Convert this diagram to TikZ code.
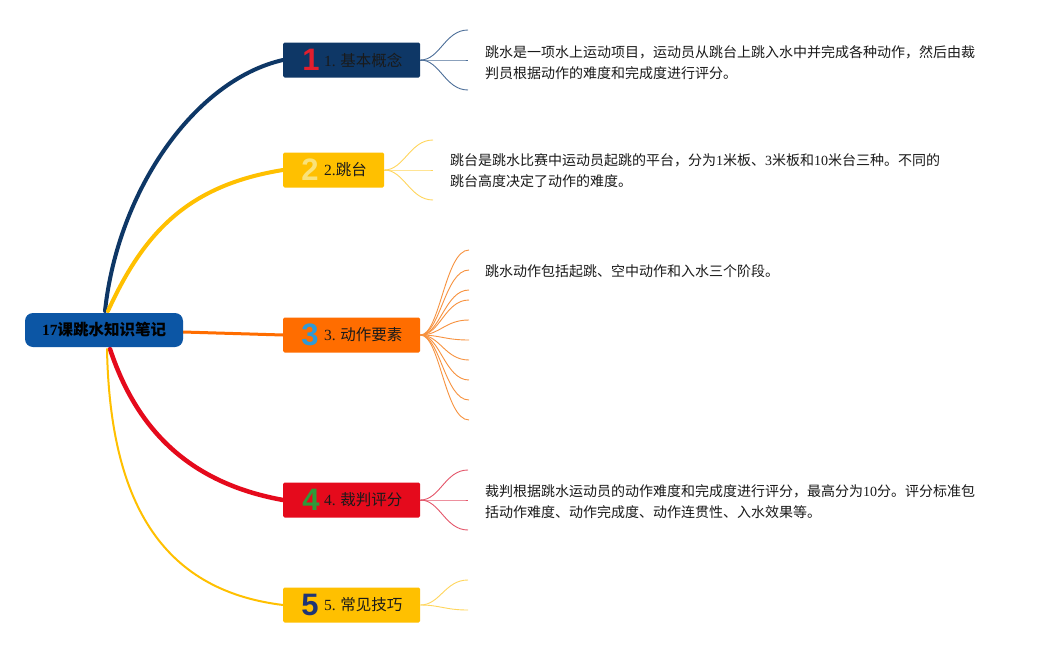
\documentclass[tikz,border=0pt]{standalone}
\usepackage{fontspec}
\setmainfont{Noto Sans CJK SC}
\newfontfamily\lat{Liberation Serif}
\newfontfamily\numf{Liberation Sans}
\definecolor{rootc}{HTML}{0C56A5}
\definecolor{c1}{HTML}{0E3766}
\definecolor{c2}{HTML}{FFC000}
\definecolor{c3}{HTML}{FF6D00}
\definecolor{c4}{HTML}{E50A1C}
\definecolor{c5}{HTML}{FFC000}
\definecolor{n1}{HTML}{E31E2D}
\definecolor{n2}{HTML}{F9E27A}
\definecolor{n3}{HTML}{2F9AD6}
\definecolor{n4}{HTML}{2E9A3A}
\definecolor{n5}{HTML}{1E3575}
\definecolor{f1}{HTML}{4D6F99}
\definecolor{f2}{HTML}{FFD65C}
\definecolor{f3}{HTML}{F7923F}
\definecolor{f4}{HTML}{E4566A}
\definecolor{f5}{HTML}{FFD65C}
\definecolor{txt}{HTML}{1A1A1A}
\begin{document}
\begin{tikzpicture}[x=1pt,y=-1pt,
  box/.style={fill=#1, minimum height=35pt, inner sep=0pt, anchor=west, rectangle, rounded corners=1.5pt},
  num/.style={font=\numf\bfseries\fontsize{31}{31}\selectfont, text=#1, inner sep=0pt},
  lbl/.style={font=\fontsize{15.5}{18}\selectfont, anchor=west, inner sep=0pt, text=txt},
  desc/.style={font=\fontsize{14}{21}\selectfont, anchor=west, align=left, inner sep=0pt, text=txt},
  trunk/.style={line cap=round, draw=#1},
  fan/.style={line width=0.9pt, draw=#1}]
\useasboundingbox[fill=white] (0,0) rectangle (1045,648);

% branch boxes
\node[box=c1, minimum width=137pt] (b1) at (283,60) {};
\node[box=c2, minimum width=101pt] (b2) at (283,170) {};
\node[box=c3, minimum width=137pt] (b3) at (283,335) {};
\node[box=c4, minimum width=137pt] (b4) at (283,500) {};
\node[box=c5, minimum width=137pt] (b5) at (283,605) {};

% root position (drawn after trunks)
\coordinate (rc) at (104,330);
\coordinate (rn) at (104,313);
\coordinate (rs) at (104,347);
\coordinate (re) at (183,332);

% trunks
\draw[trunk=c1, line width=4pt] ([xshift=1pt,yshift=2pt]rn) .. controls (118,190) and (195,80) .. (b1.west);
\draw[trunk=c2, line width=4pt] ([xshift=4pt,yshift=2pt]rn) .. controls (145,230) and (190,185) .. (b2.west);
\draw[trunk=c3, line width=3pt] (re) -- (b3.west);
\draw[trunk=c4, line width=4.5pt] ([xshift=6pt,yshift=-2pt]rs) .. controls (140,440) and (200,485) .. (b4.west);
\draw[trunk=c5, line width=2pt] ([xshift=3pt,yshift=-2pt]rs) .. controls (110,500) and (160,590) .. (b5.west);

% root
\node[fill=rootc, rounded corners=8pt, minimum width=158pt, minimum height=34pt, inner sep=0pt,
      font=\fontsize{15.5}{18}\selectfont\bfseries, text=black] (root) at (rc)
      {{\lat\bfseries 17}课跳水知识笔记};

% numerals and labels
\node[num=n1] (k1) at (311,60) {1};
\node[lbl] (l1) at (324,60) {{\lat 1.} 基本概念};
\node[num=n2] (k2) at (310,170) {2};
\node[lbl] (l2) at (324,170) {{\lat 2.}跳台};
\node[num=n3] (k3) at (310,335) {3};
\node[lbl] (l3) at (324,335) {{\lat 3.} 动作要素};
\node[num=n4] (k4) at (311,500) {4};
\node[lbl] (l4) at (324,500) {{\lat 4.} 裁判评分};
\node[num=n5] (k5) at (310,605) {5};
\node[lbl] (l5) at (324,605) {{\lat 5.} 常见技巧};

% fans
\foreach \y [count=\i] in {30,60,90} {
  \coordinate (ea\i) at (468,\y);
  \draw[fan=f1] (b1.east) .. controls (440,60) and (445,\y) .. (ea\i);
}
\foreach \y [count=\i] in {140,170,200} {
  \coordinate (eb\i) at (433,\y);
  \draw[fan=f2] (b2.east) .. controls (404,170) and (410,\y) .. (eb\i);
}
\foreach \y [count=\i] in {250,270,290,300,320,340,360,380,400,420} {
  \coordinate (ec\i) at (469,\y);
  \draw[fan=f3] (b3.east) .. controls (440,335) and (445,\y) .. (ec\i);
}
\foreach \y [count=\i] in {470,500,530} {
  \coordinate (ed\i) at (468,\y);
  \draw[fan=f4] (b4.east) .. controls (440,500) and (445,\y) .. (ed\i);
}
\foreach \y [count=\i] in {580,610} {
  \coordinate (ee\i) at (468,\y);
  \draw[fan=f5] (b5.east) .. controls (440,605) and (445,\y) .. (ee\i);
}

% descriptions
\node[desc] (d1) at (485,62.5) {跳水是一项水上运动项目，运动员从跳台上跳入水中并完成各种动作，然后由裁\\判员根据动作的难度和完成度进行评分。};
\node[desc] (d2) at (450,171) {跳台是跳水比赛中运动员起跳的平台，分为{\lat 1}米板、{\lat 3}米板和{\lat 10}米台三种。不同的\\跳台高度决定了动作的难度。};
\node[desc] (d3) at (485,271) {跳水动作包括起跳、空中动作和入水三个阶段。};
\node[desc] (d4) at (485,502) {裁判根据跳水运动员的动作难度和完成度进行评分，最高分为{\lat 10}分。评分标准包\\括动作难度、动作完成度、动作连贯性、入水效果等。};
\end{tikzpicture}
\end{document}
